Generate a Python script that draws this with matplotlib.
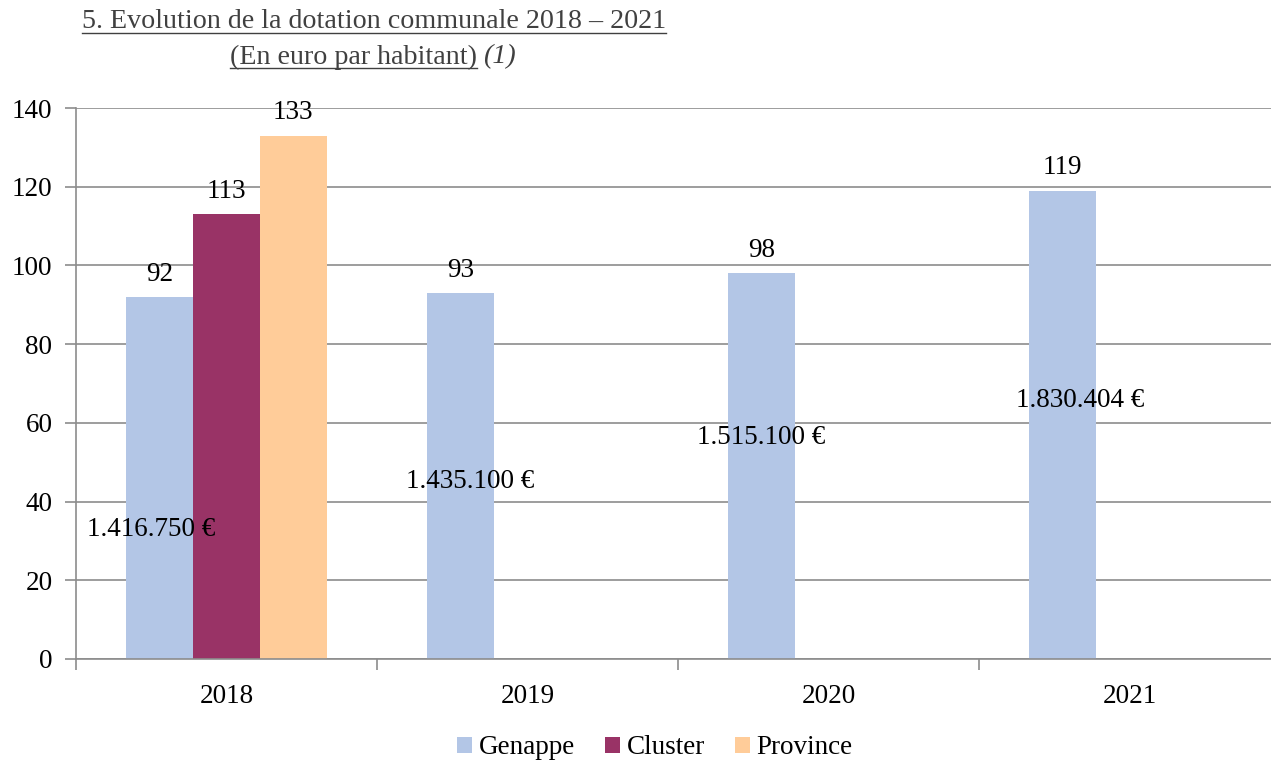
import matplotlib
matplotlib.use("Agg")
import matplotlib.pyplot as plt
from matplotlib.lines import Line2D
import numpy as np

years = ["2018", "2019", "2020", "2021"]
series_names = ["Genappe", "Cluster", "Province"]
genappe = [92, 93, 98, 119]
cluster = [113, None, None, None]
province = [133, None, None, None]
totals = ["1.416.750 €", "1.435.100 €", "1.515.100 €", "1.830.404 €"]
total_offsets = [-0.25, -0.19, -0.225, -0.165]
total_y = [33.0, 45.2, 56.4, 65.8]
colors = ["#B3C6E6", "#993366", "#FFCC99"]

plt.rcParams['font.family'] = ['Liberation Serif', 'DejaVu Serif']
FS = 19.5

W, H = 1271, 762
fig = plt.figure(figsize=(W / 100, H / 100), dpi=100)
ax = fig.add_axes([76 / W, (H - 659) / H, (1280 - 76) / W, (659 - 108) / H])

x = np.arange(len(years))
bw = 0.222
all_series = [genappe, cluster, province]
for i, (name, vals, col) in enumerate(zip(series_names, all_series, colors)):
    xs = [xi + (i - 1) * bw for xi, v in zip(x, vals) if v is not None]
    vs = [v for v in vals if v is not None]
    ax.bar(xs, vs, width=bw, color=col, label=name, zorder=2)
    for xx, vv in zip(xs, vs):
        ax.text(xx, vv + 2.6, f"{vv}", ha="center", va="bottom", fontsize=FS, zorder=4)

for xi, off, ty, t in zip(x, total_offsets, total_y, totals):
    ax.text(xi + off, ty, t, ha="center", va="center", fontsize=FS, zorder=4)

ax.set_xlim(-0.5, 3.5)
ax.set_ylim(0, 140)
ax.set_yticks(np.arange(0, 141, 20))
ax.yaxis.grid(True, color="#8C8C8C", linewidth=1.2, zorder=0)
ax.set_axisbelow(True)
for s in ["top", "right"]:
    ax.spines[s].set_visible(False)
ax.spines["left"].set_color("#8C8C8C")
ax.spines["bottom"].set_color("#8C8C8C")
ax.spines["left"].set_linewidth(1.2)
ax.spines["bottom"].set_linewidth(1.2)

# x ticks: category boundaries with tick marks, labels at centers
ax.set_xticks(np.arange(-0.5, 3.6, 1.0))
ax.set_xticklabels([])
ax.set_xticks(x, minor=True)
ax.set_xticklabels(years, minor=True, fontsize=FS)
ax.tick_params(axis="x", which="major", length=8, width=1.2, color="#8C8C8C", direction="out")
ax.tick_params(axis="x", which="minor", length=0, pad=18)
ax.tick_params(axis="y", length=8, width=1.2, color="#8C8C8C", labelsize=FS, pad=9)

leg = fig.legend(loc="center", bbox_to_anchor=(655 / W, 1 - 748 / H), ncol=3, frameon=False,
                 fontsize=FS, handlelength=0.55, handleheight=0.55, handletextpad=0.25,
                 columnspacing=1.1)

# Title with underline
TFS = 20.2
t1 = fig.text(374 / W, 1 - 22 / H, "5. Evolution de la dotation communale 2018 – 2021",
              ha="center", va="center", fontsize=TFS, color="#404040")
t2a = fig.text(477 / W, 1 - 57 / H, "(En euro par habitant)", ha="right", va="center",
               fontsize=TFS, color="#404040")
t2b = fig.text(483 / W, 1 - 57 / H, "(1)", ha="left", va="center",
               fontsize=TFS, color="#404040", style="italic")

fig.canvas.draw()
r = fig.canvas.get_renderer()
for t in (t1, t2a):
    bb = t.get_window_extent(r)
    yline = bb.y0 + 2
    fig.add_artist(Line2D([bb.x0 / W, bb.x1 / W], [yline / H, yline / H],
                          transform=fig.transFigure, color="#404040", linewidth=1.0))

fig.savefig("out.png", dpi=100)
